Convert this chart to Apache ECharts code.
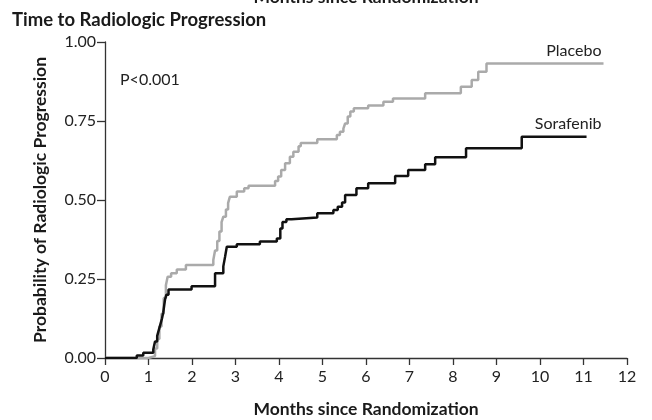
<!DOCTYPE html>
<html>
<head>
<meta charset="utf-8">
<script src="https://cdn.jsdelivr.net/npm/echarts@6/dist/echarts.min.js"></script>
<style>
html,body{margin:0;padding:0;background:#fff;}
#chart{width:652px;height:420px;}
</style>
</head>
<body>
<div id="chart"></div>
<script>
// Data (months, cumulative probability)
var sorafenibMonths = [0,0.73,0.88,1.11,1.15,1.20,1.23,1.27,1.31,1.34,1.38,1.41,1.46,1.99,2.53,2.72,2.76,2.80,3.03,3.56,3.95,4.03,4.08,4.17,4.29,4.88,5.25,5.35,5.45,5.52,5.78,6.05,6.67,6.97,7.36,7.59,8.30,9.58,11.07];
var sorafenibProb   = [0,0.008,0.017,0.027,0.052,0.07,0.085,0.105,0.125,0.145,0.185,0.20,0.217,0.227,0.268,0.29,0.32,0.352,0.36,0.369,0.378,0.41,0.43,0.439,0.445,0.458,0.468,0.479,0.492,0.516,0.537,0.553,0.576,0.595,0.613,0.635,0.664,0.70,0.70];
var placeboMonths = [0,1.00,1.15,1.20,1.25,1.30,1.35,1.40,1.44,1.52,1.65,1.86,2.49,2.53,2.58,2.63,2.68,2.72,2.78,2.83,2.87,3.03,3.20,3.30,3.91,3.98,4.05,4.14,4.25,4.33,4.45,4.50,4.88,5.33,5.40,5.48,5.52,5.58,5.64,5.72,6.05,6.40,6.62,7.36,8.18,8.43,8.58,8.77,11.46];
var placeboProb   = [0,0.006,0.03,0.06,0.10,0.14,0.19,0.23,0.257,0.268,0.28,0.294,0.31,0.34,0.37,0.40,0.43,0.447,0.47,0.49,0.51,0.527,0.537,0.545,0.56,0.574,0.595,0.616,0.637,0.653,0.67,0.68,0.692,0.706,0.716,0.726,0.742,0.764,0.78,0.79,0.799,0.811,0.821,0.838,0.858,0.88,0.906,0.932,0.932];
var seriesNames = ['Placebo','Sorafenib'];
var xTicks = [0,1,2,3,4,5,6,7,8,9,10,11,12];
var yTicks = [0,0.25,0.5,0.75,1.0];
var titleText = 'Time to Radiologic Progression';
var xTitle = 'Months since Randomization';
var yTitle = 'Probability of Radiologic Progression';
var pText = 'P<0.001';

function zip(a,b){return a.map(function(v,i){return [v,b[i]];});}

var font = 'Lato, "Open Sans", sans-serif';
var chart = echarts.init(document.getElementById('chart'));
chart.setOption({
  animation:false,
  backgroundColor:'#fff',
  textStyle:{fontFamily:font},
  title:{text:titleText,left:7,top:6,textStyle:{fontFamily:font,fontSize:18.5,fontWeight:'bold',color:'#1a1a1a'}},
  grid:{left:105,right:25,top:42,bottom:62,containLabel:false,outerBoundsMode:'none'},
  xAxis:{type:'value',min:xTicks[0],max:xTicks[xTicks.length-1],interval:1,
    name:xTitle,nameLocation:'middle',nameGap:42,
    nameTextStyle:{fontFamily:font,fontSize:17.5,fontWeight:'bold',color:'#1a1a1a'},
    axisLine:{lineStyle:{color:'#333',width:1.3}},
    axisTick:{show:true,length:7,inside:false,lineStyle:{color:'#333',width:1.3}},
    axisLabel:{fontFamily:font,fontSize:16,color:'#222',margin:11},
    splitLine:{show:false}},
  yAxis:{type:'value',min:yTicks[0],max:yTicks[yTicks.length-1],interval:0.25,
    name:yTitle,nameLocation:'middle',nameGap:56,
    nameTextStyle:{fontFamily:font,fontSize:17.5,fontWeight:'bold',color:'#1a1a1a'},
    axisLine:{show:true,lineStyle:{color:'#333',width:1.3}},
    axisTick:{show:true,length:8,lineStyle:{color:'#333',width:1.3}},
    axisLabel:{fontFamily:font,fontSize:16,color:'#222',margin:9,formatter:function(v){return v.toFixed(2);}},
    splitLine:{show:false}},
  graphic:[
    {type:'text',left:120,top:72,style:{text:pText,font:'16px '+font,fill:'#222'}},
    {type:'text',x:366,y:6,style:{text:xTitle,font:'bold 17.5px '+font,fill:'#1a1a1a',textAlign:'center',textVerticalAlign:'bottom'}}
  ],
  series:[
    {name:seriesNames[0],type:'line',step:'end',symbol:'none',data:zip(placeboMonths,placeboProb),
      lineStyle:{color:'#aaaaaa',width:2.5},z:2,
      endLabel:{show:true,formatter:seriesNames[0],align:'right',verticalAlign:'bottom',distance:0,offset:[-2,-5],fontFamily:font,fontSize:16,color:'#222'}},
    {name:seriesNames[1],type:'line',step:'end',symbol:'none',data:zip(sorafenibMonths,sorafenibProb),
      lineStyle:{color:'#111111',width:2.5},z:3,
      endLabel:{show:true,formatter:seriesNames[1],align:'right',verticalAlign:'bottom',distance:0,offset:[15,-5],fontFamily:font,fontSize:16,color:'#222'}}
  ]
});
</script>
</body>
</html>
